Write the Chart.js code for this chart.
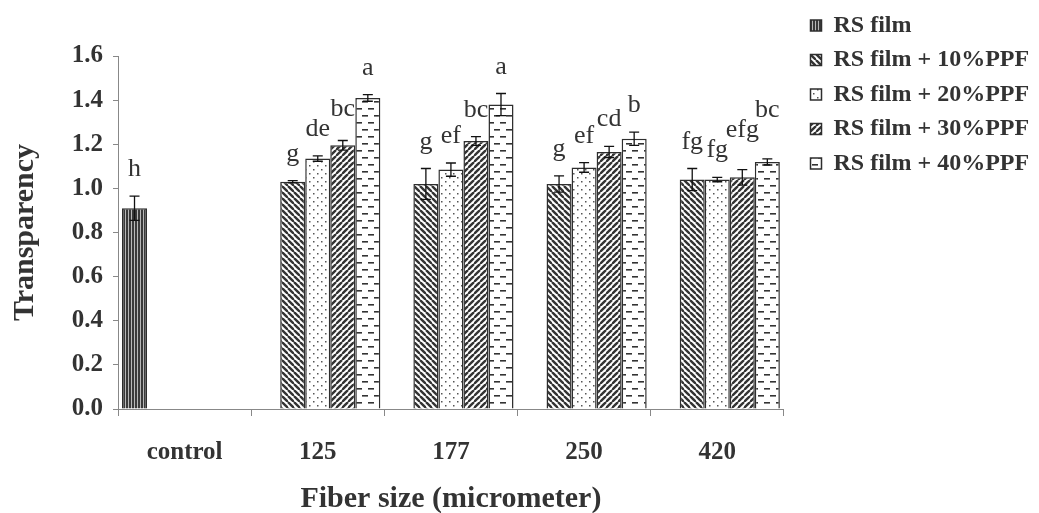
<!DOCTYPE html>
<html>
<head>
<meta charset="utf-8">
<script src="https://cdn.jsdelivr.net/npm/chart.js@4.4.1/dist/chart.umd.min.js"></script>
<style>
html, body { margin: 0; padding: 0; background: #fff; }
#wrap { width: 1039px; height: 513px; }
</style>
</head>
<body>
<div id="wrap"><canvas id="chart"></canvas></div>
<script>
// Fiber size groups
const categories = ["control", "125", "177", "250", "420"];
const seriesNames = ["RS film", "RS film + 10%PPF", "RS film + 20%PPF", "RS film + 30%PPF", "RS film + 40%PPF"];

// Transparency means
const rsFilm = [0.91, null, null, null, null];
const ppf10 = [null, 1.03, 1.02, 1.02, 1.04];
const ppf20 = [null, 1.135, 1.085, 1.095, 1.04];
const ppf30 = [null, 1.195, 1.215, 1.165, 1.05];
const ppf40 = [null, 1.41, 1.38, 1.225, 1.12];

// Standard deviations (error bars)
const rsFilmErr = [0.055, 0, 0, 0, 0];
const ppf10Err = [0, 0.005, 0.07, 0.037, 0.05];
const ppf20Err = [0, 0.012, 0.03, 0.022, 0.01];
const ppf30Err = [0, 0.022, 0.02, 0.025, 0.035];
const ppf40Err = [0, 0.015, 0.05, 0.03, 0.014];

// Significance letters
const rsFilmLetters = ["h", "", "", "", ""];
const ppf10Letters = ["", "g", "g", "g", "fg"];
const ppf20Letters = ["", "de", "ef", "ef", "fg"];
const ppf30Letters = ["", "bc", "bc", "cd", "efg"];
const ppf40Letters = ["", "a", "a", "b", "bc"];

const yTicks = [0, 0.2, 0.4, 0.6, 0.8, 1.0, 1.2, 1.4, 1.6];

const values = [rsFilm, ppf10, ppf20, ppf30, ppf40];
const errors = [rsFilmErr, ppf10Err, ppf20Err, ppf30Err, ppf40Err];
const letters = [rsFilmLetters, ppf10Letters, ppf20Letters, ppf30Letters, ppf40Letters];

const FONT = "'Liberation Serif', 'Times New Roman', serif";
const INK = "#2e2e2e";

// hatch fills like the printed figure
function makePattern(kind) {
    const c = document.createElement("canvas");
    const g = c.getContext("2d");
    if (kind === "vert") {
        c.width = 3; c.height = 3;
        g.fillStyle = "#3a3a3a"; g.fillRect(0, 0, 3, 3);
        g.fillStyle = "#b8b8b8"; g.fillRect(2, 0, 1, 3);
    } else if (kind === "back" || kind === "fwd") {
        c.width = 6; c.height = 6;
        g.fillStyle = "#fff"; g.fillRect(0, 0, 6, 6);
        g.strokeStyle = "#333"; g.lineWidth = 2.4;
        for (let o = -6; o <= 6; o += 6) {
            g.beginPath();
            if (kind === "back") { g.moveTo(o, 0); g.lineTo(o + 6, 6); }
            else { g.moveTo(o + 6, 0); g.lineTo(o, 6); }
            g.stroke();
        }
    } else if (kind === "dots") {
        c.width = 8; c.height = 8;
        g.fillStyle = "#fff"; g.fillRect(0, 0, 8, 8);
        g.fillStyle = "#555";
        g.fillRect(1, 1, 1.5, 1.5); g.fillRect(5, 5, 1.5, 1.5);
    } else if (kind === "dash") {
        c.width = 12; c.height = 14;
        g.fillStyle = "#fff"; g.fillRect(0, 0, 12, 14);
        g.fillStyle = "#333";
        g.fillRect(2, 3, 6, 1.6); g.fillRect(8, 10, 6, 1.6); g.fillRect(-4, 10, 6, 1.6);
    }
    return g.createPattern(c, "repeat");
}

const fills = ["vert", "back", "dots", "fwd", "dash"].map(makePattern);

const datasets = seriesNames.map((name, i) => ({
    label: name,
    data: values[i],
    backgroundColor: fills[i],
    borderColor: INK,
    borderWidth: 1.5,
    categoryPercentage: 0.94,
    barPercentage: 1.0
}));

// error bars and letters on top of the bars
const errorBarPlugin = {
    id: "errorBars",
    afterDatasetsDraw(chart) {
        const ctx = chart.ctx;
        const y = chart.scales.y;
        ctx.save();
        ctx.strokeStyle = "#111";
        ctx.lineWidth = 1.3;
        const tops = [];
        chart.data.datasets.forEach((ds, i) => {
            chart.getDatasetMeta(i).data.forEach((bar, j) => {
                const v = ds.data[j];
                if (v === null) return;
                const e = errors[i][j];
                const yt = y.getPixelForValue(v + e);
                const yb = y.getPixelForValue(v - e);
                ctx.beginPath();
                ctx.moveTo(bar.x, yt); ctx.lineTo(bar.x, yb);
                ctx.moveTo(bar.x - 5, yt); ctx.lineTo(bar.x + 5, yt);
                ctx.moveTo(bar.x - 5, yb); ctx.lineTo(bar.x + 5, yb);
                ctx.stroke();
                tops.push({ i, j, x: bar.x, yt });
            });
        });
        ctx.font = "26px " + FONT;
        ctx.fillStyle = "#333";
        ctx.textAlign = "center";
        ctx.textBaseline = "alphabetic";
        const prev = {};
        tops.sort((a, b) => a.j - b.j || a.i - b.i).forEach(t => {
            const txt = letters[t.i][t.j];
            if (!txt) return;
            const w = ctx.measureText(txt).width;
            let base = t.yt - 20;
            const p = prev[t.j];
            if (p && t.x - w / 2 < p.r + 2 && base > p.top - 2) base = p.top - 2;
            ctx.fillText(txt, t.x, base);
            prev[t.j] = { r: t.x + w / 2, top: base - 18 };
        });
        ctx.restore();
    }
};

// keep legend in the top right corner like the figure
const legendSpot = {
    id: "legendSpot",
    afterLayout(chart) {
        const lg = chart.legend;
        const h = lg.height;
        lg.left = 800; lg.right = 1039;
        lg.top = 3; lg.bottom = 3 + h;
        lg.width = 239;
    }
};

new Chart(document.getElementById("chart"), {
    type: "bar",
    data: { labels: categories, datasets: datasets },
    plugins: [errorBarPlugin, legendSpot],
    options: {
        responsive: true,
        maintainAspectRatio: false,
        animation: false,
        layout: { padding: { left: 0, right: 16, top: 56, bottom: 0 } },
        plugins: {
            tooltip: { enabled: false },
            legend: {
                position: "right",
                align: "start",
                labels: {
                    boxWidth: 11,
                    boxHeight: 11,
                    padding: 10.5,
                    color: "#333",
                    font: { family: FONT, size: 24, weight: "bold" }
                }
            }
        },
        scales: {
            x: {
                grid: { offset: true, drawOnChartArea: false, tickLength: 7, color: "#888" },
                border: { color: "#888", width: 1 },
                ticks: {
                    color: "#333",
                    padding: 22,
                    font: { family: FONT, size: 25, weight: "bold" }
                },
                title: {
                    display: true,
                    text: "Fiber size (micrometer)",
                    color: "#333",
                    padding: { top: 0, bottom: -4 },
                    font: { family: FONT, size: 30, weight: "bold" }
                },
                afterFit(scale) { scale.height = 104; }
            },
            y: {
                min: 0,
                max: 1.6,
                grid: { drawOnChartArea: false, tickLength: 5, color: "#888" },
                border: { color: "#888", width: 1 },
                afterBuildTicks(scale) { scale.ticks = yTicks.map(v => ({ value: v })); },
                ticks: {
                    color: "#333",
                    padding: 10,
                    font: { family: FONT, size: 25, weight: "bold" },
                    callback: v => v.toFixed(1)
                },
                title: {
                    display: true,
                    text: "Transparency",
                    color: "#333",
                    padding: { top: 7, bottom: 0 },
                    font: { family: FONT, size: 30, weight: "bold" }
                },
                afterFit(scale) { scale.width = 118; }
            }
        }
    }
});
</script>
</body>
</html>
